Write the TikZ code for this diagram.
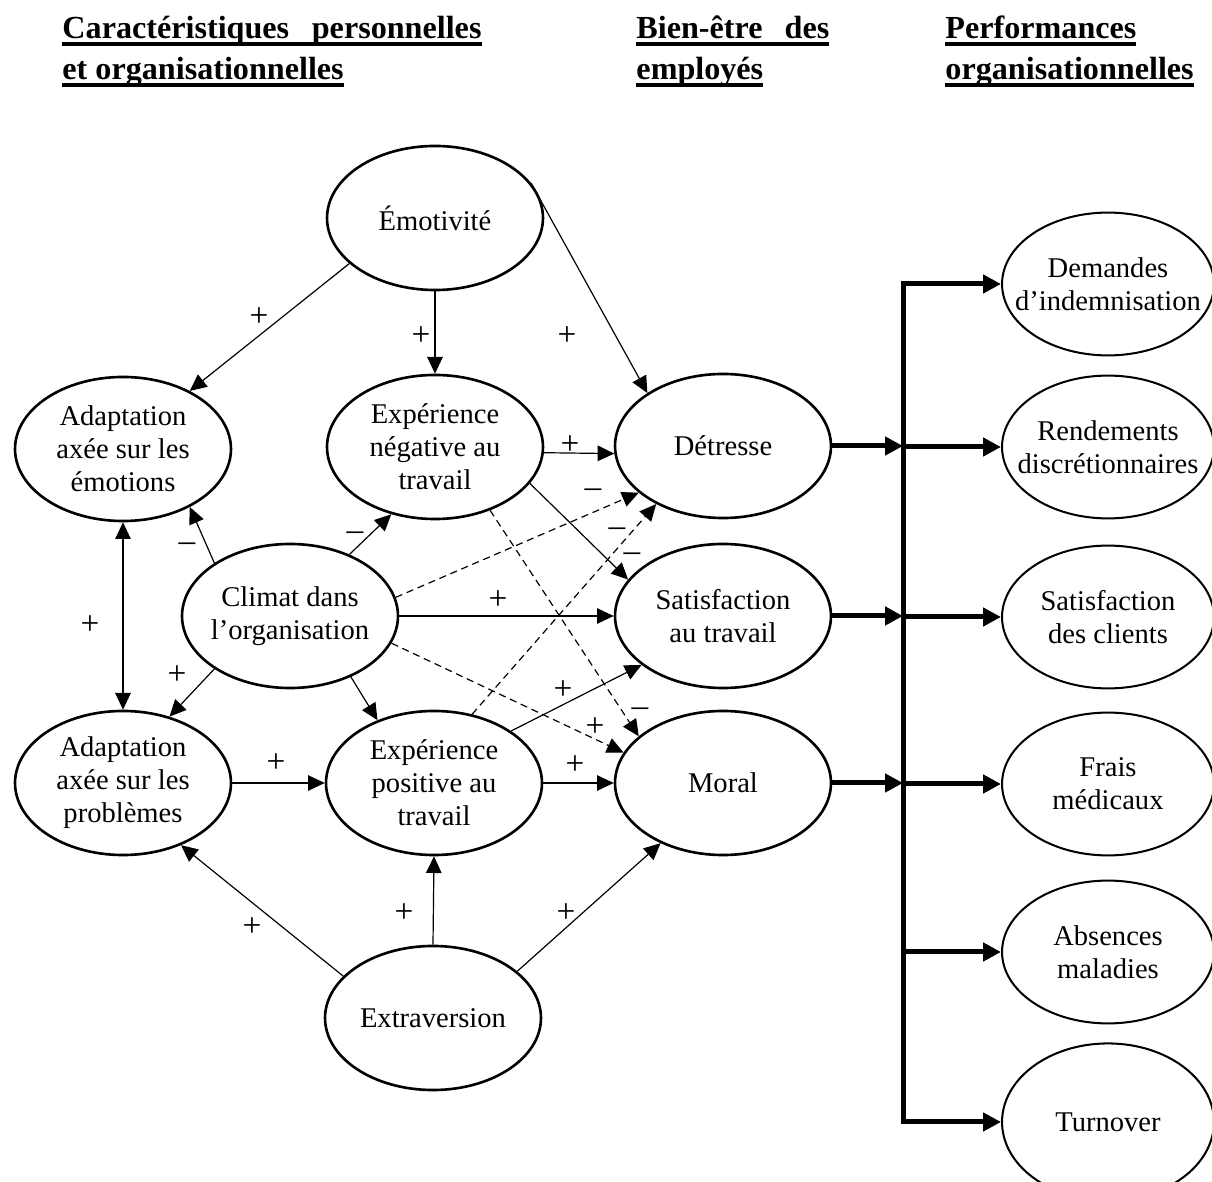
\documentclass[tikz,border=0pt]{standalone}
\usepackage{fontspec}
\setmainfont{Liberation Serif}
\usetikzlibrary{shapes.geometric, arrows.meta}
\newsavebox{\hdbox}
\newcommand{\ulbox}[1]{\sbox{\hdbox}{#1}\rlap{\rule[-3pt]{\wd\hdbox}{1.6pt}}\usebox{\hdbox}}
\tikzset{
  VarStyle/.style={ellipse, draw, line width=1.1pt, minimum width=90.7pt, minimum height=60.5pt,
    inner xsep=-6pt, inner ysep=0pt, align=center, font=\fontsize{12}{13.9}\selectfont},
  OutStyle/.style={VarStyle, line width=0.85pt, minimum width=89pt, minimum height=60pt, inner xsep=-12pt},
  EdgeStyle/.style={line width=0.5pt, -{Triangle[length=7pt,width=6.5pt]}},
  DashStyle/.style={EdgeStyle, dash pattern=on 3pt off 2pt},
  BarLine/.style={line width=2.1pt},
  BarArrow/.style={BarLine, -{Triangle[length=7.5pt,width=7.5pt]}},
  SignStyle/.style={font=\fontsize{14}{16}\selectfont, inner sep=0pt},
  HeadStyle/.style={anchor=base west, inner sep=0pt, font=\fontsize{13.5}{15}\selectfont\bfseries}
}
\begin{document}
\begin{tikzpicture}[x=0.42pt, y=-0.42pt]
\useasboundingbox (0,0) rectangle (1212,1182);

\node[HeadStyle] (h1a) at (62,39) {\ulbox{\makebox[176pt][s]{Caractéristiques personnelles}}};
\node[HeadStyle] (h1b) at (62,80) {\ulbox{et organisationnelles}};
\node[HeadStyle] (h2a) at (636,39) {\ulbox{\makebox[81pt][s]{Bien-être des}}};
\node[HeadStyle] (h2b) at (636,80) {\ulbox{employés}};
\node[HeadStyle] (h3a) at (945,39) {\ulbox{Performances}};
\node[HeadStyle] (h3b) at (945,80) {\ulbox{organisationnelles}};

\node[VarStyle] (emo) at (435,218) {Émotivité};
\node[VarStyle] (adem) at (123,449) {Adaptation\\axée sur les\\émotions};
\node[VarStyle] (expneg) at (435,447) {Expérience\\négative au\\travail};
\node[VarStyle] (detr) at (723,446) {Détresse};
\node[VarStyle] (climat) at (290,616) {Climat dans\\l’organisation};
\node[VarStyle] (satis) at (723,616) {Satisfaction\\au travail};
\node[VarStyle] (adpb) at (123,783) {Adaptation\\axée sur les\\problèmes};
\node[VarStyle] (exppos) at (434,783) {Expérience\\positive au\\travail};
\node[VarStyle] (moral) at (723,783) {Moral};
\node[VarStyle] (extra) at (433,1018) {Extraversion};

\node[OutStyle] (dem) at (1108,284) {Demandes\\d’indemnisation};
\node[OutStyle] (rend) at (1108,447) {Rendements\\discrétionnaires};
\node[OutStyle] (satc) at (1108,617) {Satisfaction\\des clients};
\node[OutStyle] (frais) at (1108,784) {Frais\\médicaux};
\node[OutStyle] (abs) at (1108,952) {Absences\\maladies};
\node[OutStyle, minimum height=66pt] (turn) at (1108,1122) {Turnover};

\foreach \a/\b in {emo.208/adem.41, emo.south/expneg.north, emo.20/detr.145,
  expneg.-3/detr.184, expneg.-21/satis.159, climat.145/adem.-41, climat.46/expneg.237,
  climat.east/satis.west, climat.215/adpb.55, climat.-45/exppos.132, exppos.34/satis.211,
  exppos.east/moral.west, adpb.east/exppos.west, extra.155/adpb.-47,
  extra.north/exppos.south, extra.29/moral.224}
  \draw[EdgeStyle] (\a) -- (\b);
\foreach \a/\b in {climat.10/detr.209, exppos.61/detr.221, expneg.-49/moral.151, climat.-15/moral.163}
  \draw[DashStyle] (\a) -- (\b);
\draw[EdgeStyle, {Triangle[length=7pt,width=6.5pt]}-{Triangle[length=7pt,width=6.5pt]}] (adem.south) -- (adpb.north);

\foreach \x/\y/\s [count=\i] in {259/317/+, 421/336/+, 567/336/+, 570/445/+,
  593/493/\textendash, 617/532/\textendash, 632/557/\textendash, 187/547/\textendash,
  355/536/\textendash, 498/600/+, 177/675/+, 90/625/+, 563/690/+, 640/712/\textendash,
  595/727/+, 575/765/+, 276/763/+, 252/927/+, 404/913/+, 566/913/+}
  \node[SignStyle] (sign\i) at (\x,\y) {\s};

\coordinate (bartop) at (903,284);
\coordinate (barbot) at (903,1122);
\draw[BarLine, {Triangle[length=7.5pt,width=7.5pt]}-{Triangle[length=7.5pt,width=7.5pt]}]
  (dem.west) -- (bartop) -- (barbot) -- (turn.west);
\foreach \v in {detr, satis, moral}
  \draw[BarArrow] (\v.east) -- (\v.east -| bartop);
\foreach \o in {rend, satc, frais, abs}
  \draw[BarArrow] (\o.west -| bartop) -- (\o.west);

\end{tikzpicture}
\end{document}
